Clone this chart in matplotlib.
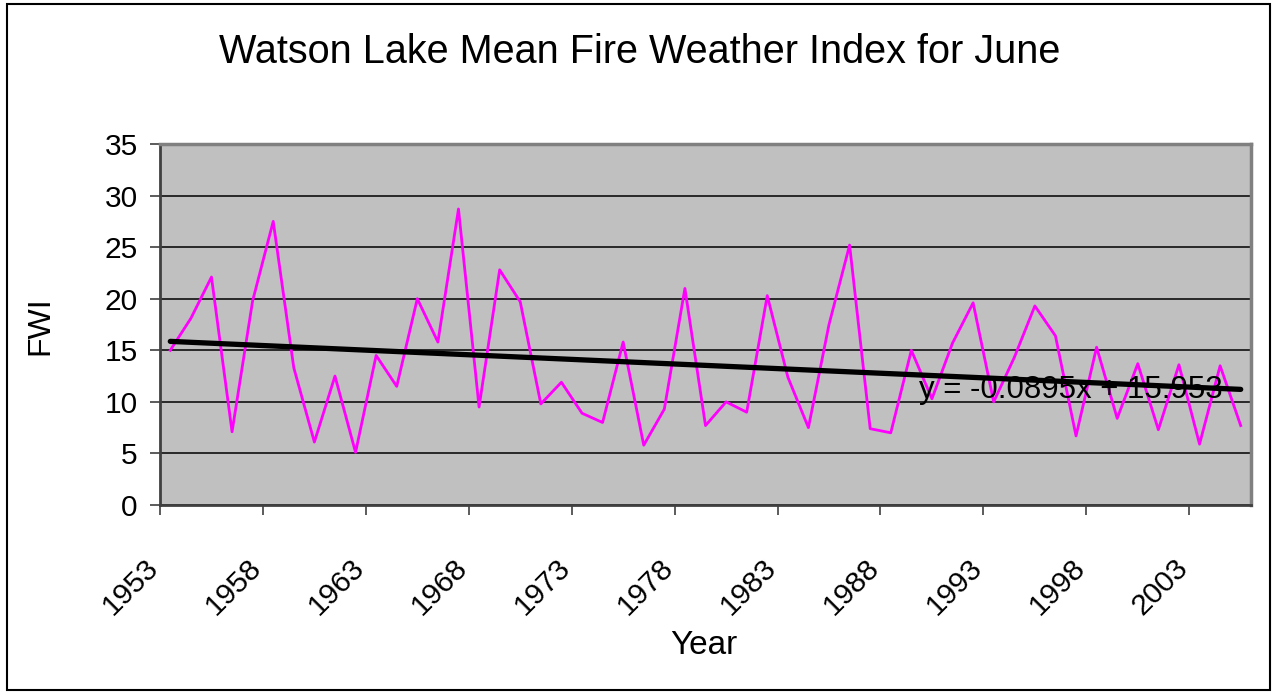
import matplotlib.pyplot as plt
from matplotlib.patches import Rectangle

plt.rcParams['font.family'] = ['Liberation Sans', 'DejaVu Sans']

# mean June FWI at Watson Lake, 1953-2005
years = list(range(1953, 2006))
fwi = [15.0, 18.1, 22.1, 7.1, 19.8, 27.5, 13.3, 6.1, 12.5, 5.1,
       14.5, 11.5, 20.0, 15.8, 28.7, 9.5, 22.8, 19.7, 9.8, 11.9,
       8.9, 8.0, 15.8, 5.8, 9.3, 21.0, 7.7, 10.0, 9.0, 20.3,
       12.4, 7.5, 17.5, 25.2, 7.4, 7.0, 15.0, 10.3, 15.7, 19.6,
       10.0, 14.3, 19.3, 16.4, 6.7, 15.3, 8.4, 13.7, 7.3, 13.6,
       5.9, 13.5, 7.7]

# linear trend (x = 1..n)
slope = -0.0895
intercept = 15.953
trend_label = 'y = -0.0895x + 15.953'

tick_years = list(range(1953, 2006, 5))
y_ticks = [0, 5, 10, 15, 20, 25, 30, 35]

W, H = 1274, 692
fig = plt.figure(figsize=(W / 100, H / 100), dpi=100)
ax = fig.add_axes([160 / W, 1 - 505 / H, 1091 / W, 361 / H])
ax.set_facecolor('#C0C0C0')

pos = [i + 0.5 for i in range(len(years))]
ax.plot(pos, fwi, color='#FF00FF', lw=2.0, zorder=3)

trend = [slope * (i + 1) + intercept for i in range(len(years))]
ax.plot([pos[0], pos[-1]], [trend[0], trend[-1]], color='black', lw=3.8,
        solid_capstyle='round', zorder=4)

ax.text(36.87, 10.37, trend_label, fontsize=22.5, ha='left', va='baseline', zorder=5)

ax.set_xlim(0, len(years))
ax.set_ylim(0, 35)
ax.set_yticks(y_ticks)
ax.set_xticks([y - years[0] for y in tick_years])
ax.set_xticklabels([str(y) for y in tick_years], rotation=45, ha='right',
                   va='baseline', rotation_mode='anchor')
ax.tick_params(axis='both', direction='out', length=7, width=1.2,
               color='#404040', labelsize=21.5)
ax.tick_params(axis='y', pad=9)
ax.tick_params(axis='x', pad=39)

ax.yaxis.grid(True, color='black', lw=1.1)
ax.set_axisbelow(True)
for side in ['top', 'right']:
    ax.spines[side].set_color('#808080')
    ax.spines[side].set_linewidth(2.5)
for side in ['left', 'bottom']:
    ax.spines[side].set_color('#404040')
    ax.spines[side].set_linewidth(2.0)

fig.text(640 / W, 1 - 63 / H, 'Watson Lake Mean Fire Weather Index for June',
         fontsize=28.5, ha='center', va='baseline')
fig.text(704 / W, 1 - 654 / H, 'Year', fontsize=24, ha='center', va='baseline')
fig.text(40 / W, 1 - 326 / H, 'FWI', fontsize=23, rotation=90,
         ha='center', va='center')

# outer chart border
fig.patches.append(Rectangle((7 / W, 1 - 690 / H), 1263 / W, 686 / H,
                             transform=fig.transFigure, fill=False,
                             edgecolor='black', lw=1.5))

fig.savefig('out.png', dpi=100)
